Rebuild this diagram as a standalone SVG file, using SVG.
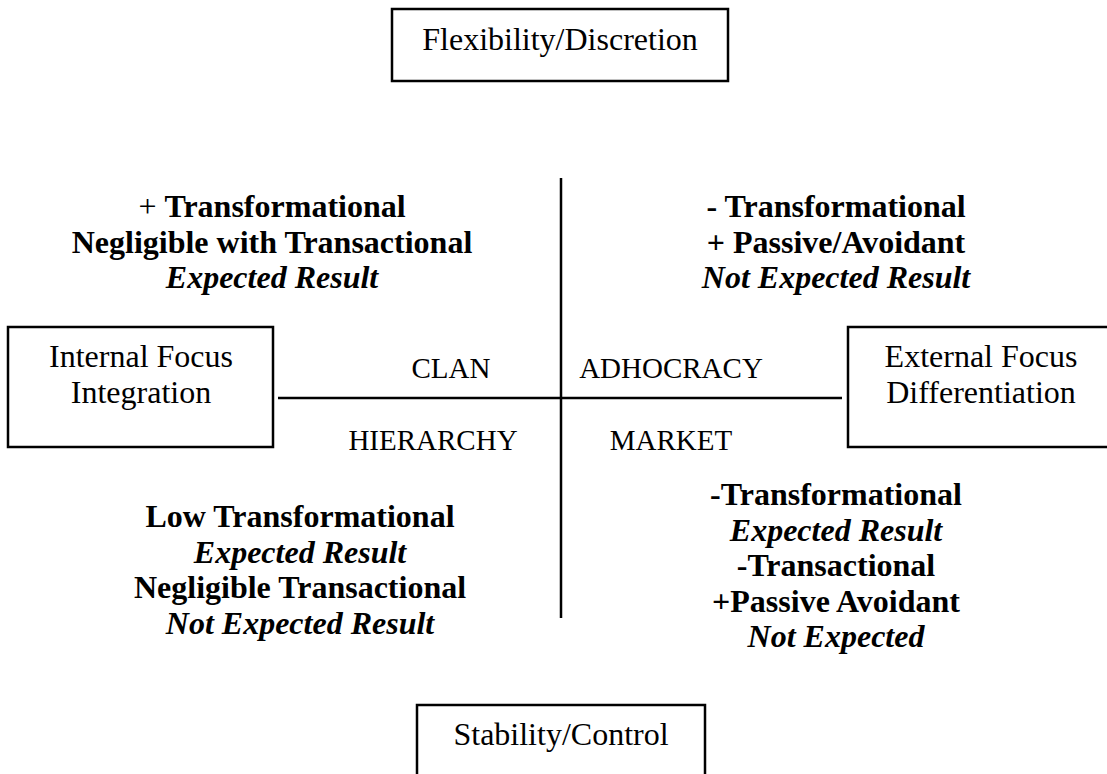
<svg xmlns="http://www.w3.org/2000/svg" width="1107" height="774" viewBox="0 0 1107 774">
<style>
.box{fill:#fff;stroke:#000;stroke-width:2.5}
.ln{stroke:#000;stroke-width:2.5;fill:none}
text{font-family:"Liberation Serif","Times New Roman",serif;fill:#000;text-anchor:middle}
.lbl{font-size:32px}
.q{font-size:29px}
.b{font-size:32px;font-weight:bold}
.bi{font-size:32px;font-weight:bold;font-style:italic}
.n{font-weight:normal}
</style>
<rect width="1107" height="774" fill="#fff"/>
<g id="connectors">
<line class="ln" x1="278" y1="398" x2="842" y2="398"/>
<line class="ln" x1="561" y1="178" x2="561" y2="618"/>
</g>
<g id="top"><rect class="box" x="392" y="9" width="336" height="72"/><text class="lbl" x="560" y="50">Flexibility/Discretion</text></g>
<g id="left"><rect class="box" x="8" y="327" width="265" height="120"/><text class="lbl" x="141" y="367">Internal Focus</text><text class="lbl" x="141" y="403">Integration</text></g>
<g id="right"><rect class="box" x="848" y="327" width="270" height="120"/><text class="lbl" x="981" y="367">External Focus</text><text class="lbl" x="981" y="403">Differentiation</text></g>
<g id="bottom"><rect class="box" x="417" y="705" width="288" height="90"/><text class="lbl" x="561" y="745">Stability/Control</text></g>
<g id="quadrants">
<text class="q" x="451" y="378">CLAN</text>
<text class="q" x="671" y="378">ADHOCRACY</text>
<text class="q" x="433" y="450">HIERARCHY</text>
<text class="q" x="671" y="450">MARKET</text>
</g>
<g id="topleft">
<text class="b" x="272" y="217"><tspan class="n">+ </tspan>Transformational</text>
<text class="b" x="272" y="253">Negligible with Transactional</text>
<text class="bi" x="272" y="288">Expected Result</text>
</g>
<g id="topright">
<text class="b" x="836" y="217">- Transformational</text>
<text class="b" x="836" y="253">+ Passive/Avoidant</text>
<text class="bi" x="836" y="288">Not Expected Result</text>
</g>
<g id="bottomleft">
<text class="b" x="300" y="527">Low Transformational</text>
<text class="bi" x="300" y="563">Expected Result</text>
<text class="b" x="300" y="598">Negligible Transactional</text>
<text class="bi" x="300" y="634">Not Expected Result</text>
</g>
<g id="bottomright">
<text class="b" x="836" y="505">-Transformational</text>
<text class="bi" x="836" y="541">Expected Result</text>
<text class="b" x="836" y="576">-Transactional</text>
<text class="b" x="836" y="612">+Passive Avoidant</text>
<text class="bi" x="836" y="647">Not Expected</text>
</g>
</svg>
